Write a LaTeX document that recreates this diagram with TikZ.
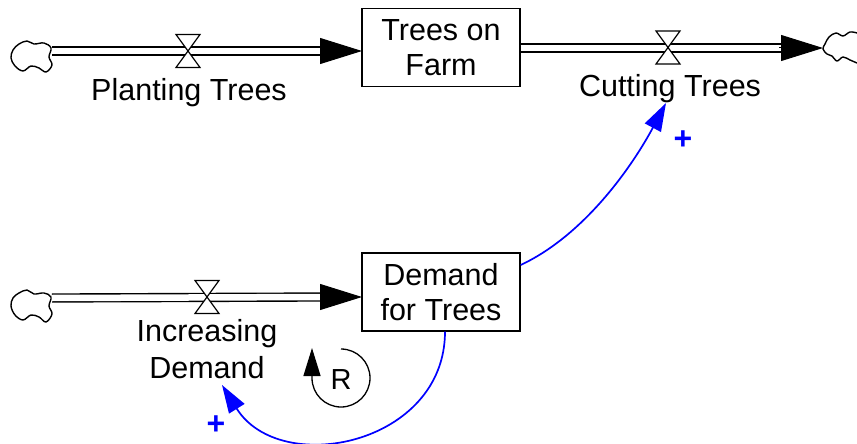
\documentclass[tikz,border=0pt]{standalone}
\usepackage{fontspec}
\setmainfont{Liberation Sans}
\usetikzlibrary{arrows.meta}

\begin{document}
\begin{tikzpicture}[x=1pt,y=-1pt,
  lbl/.style={inner sep=0pt, font=\fontsize{30.5}{37}\selectfont, align=center},
  stock/.style={draw, line width=1.3pt, minimum width=158pt, minimum height=78pt,
                inner sep=0pt, font=\fontsize{30.5}{35.6}\selectfont, align=center},
  pipe/.style={draw, double distance=6.5pt, line width=1.4pt},
  flowtip/.style={-{Triangle[length=42pt,width=26pt]}, line width=1pt},
  cloudline/.style={line width=1.4pt, line join=round},
  link/.style={draw=blue, line width=1.7pt, -{Triangle[length=28pt,width=18pt]}},
  pluslbl/.style={text=blue, inner sep=0pt, font=\fontsize{32}{34}\selectfont\bfseries},
  valve/.pic={\draw[fill=white, line width=1.2pt]
      (-12,-16.5) -- (12,-16.5) -- (-12,16.5) -- (12,16.5) -- cycle;}
]
\useasboundingbox (0,0) rectangle (857,444);

% stocks
\node[stock] (farm) at (441,47.5) {Trees on\\Farm};
\node[stock] (demand) at (441,292) {Demand\\for Trees};

% sources and sinks
\coordinate (srcA) at (52,51);
\coordinate (sinkA) at (823,48);
\coordinate (srcB) at (52,298);
\coordinate (tipA) at (362,51);
\coordinate (tipB) at (362,297);

\draw[cloudline] plot[smooth cycle, tension=0.6] coordinates {
  (13,50) (19,44) (27,41) (34,44) (44,43) (51,48) (49,57) (52,65) (46,72)
  (39,68) (31,66) (23,71) (15,66) (11,58)};
\draw[cloudline] plot[smooth cycle, tension=0.6] coordinates {
  (13,298) (19,293) (27,290) (34,294) (44,293) (51,297) (49,306) (52,314) (46,322)
  (39,317) (31,315) (23,320) (15,315) (11,306)};
\draw[cloudline] plot[smooth, tension=0.6] coordinates {
  (857,33) (850,32) (843,36) (836,33) (829,37) (825,44) (823,49) (827,54)
  (832,56) (837,61) (843,57) (850,60) (857,63)};

% flow pipes
\draw[pipe] (srcA) -- ([xshift=-38pt]tipA);
\draw[flowtip] ([xshift=-42pt]tipA) -- (tipA);
\draw[pipe] (farm.east |- sinkA) -- ([xshift=-40pt]sinkA);
\draw[flowtip] ([xshift=-44pt]sinkA) -- (sinkA);
\draw[pipe] (srcB) -- ([xshift=-38pt]tipB);
\draw[flowtip] ([xshift=-42pt]tipB) -- (tipB);

% valves
\pic at (188,51) {valve};
\pic at (668,47.5) {valve};
\pic at (207,297) {valve};

% flow labels (base anchor sits on the last line)
\node[lbl, anchor=base] (plant) at (189,100) {Planting Trees};
\node[lbl, anchor=base] (cut) at (670,96) {Cutting Trees};
\node[lbl, anchor=base] (inc) at (207,378) {Increasing\\Demand};

% causal links
\coordinate (cutin) at (666,103);
\coordinate (incin) at (222,385);
\draw[link] ([yshift=27pt]demand.east) .. controls (585,235) and (633,165) .. (cutin);
\draw[link] ([xshift=4pt]demand.south) .. controls (445,445) and (280,478) .. (incin);
\node[pluslbl] (p1) at (683,140) {+};
\node[pluslbl] (p2) at (216,425) {+};

% reinforcing loop marker
\node[inner sep=0pt, font=\fontsize{29}{30}\selectfont] (loopR) at (341,380) {R};
\draw[line width=1.3pt, -{Triangle[length=28pt,width=17pt]}]
  (341,349) arc[start angle=-90, end angle=180, radius=29] -- ++(0,-30);
\end{tikzpicture}
\end{document}
